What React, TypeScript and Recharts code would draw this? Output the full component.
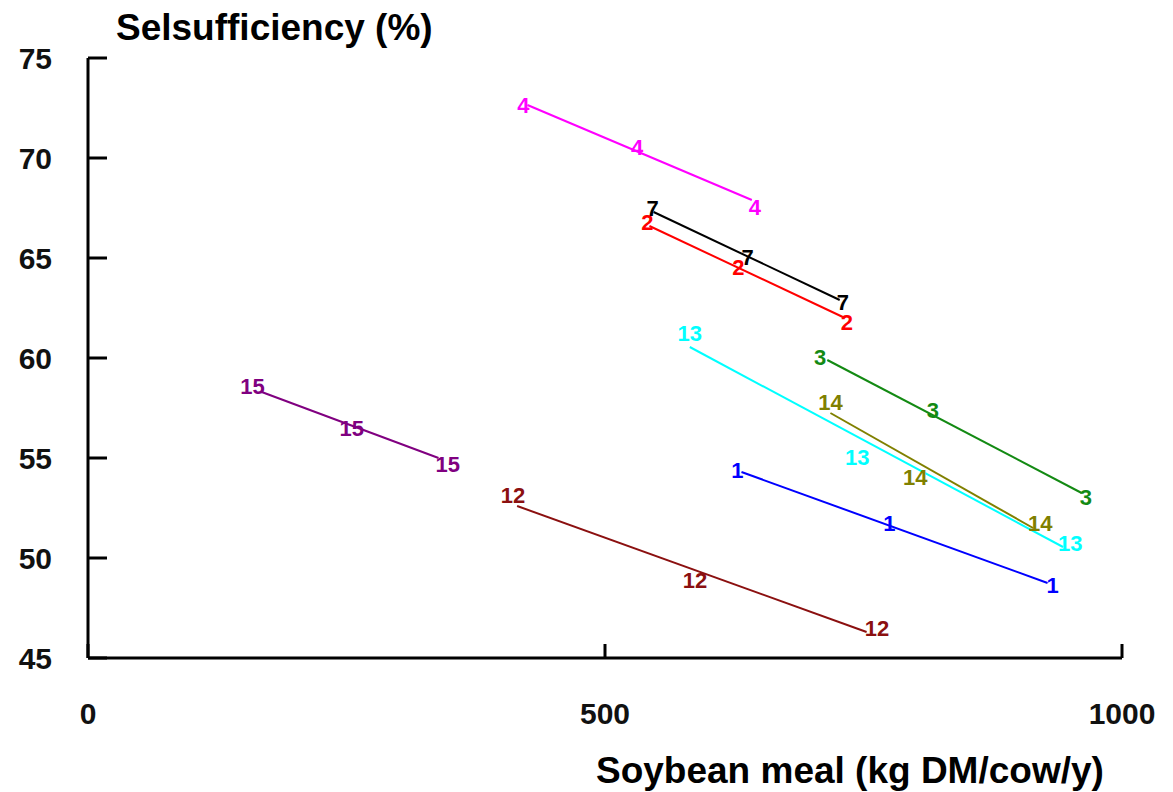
import { ScatterChart, Scatter, XAxis, YAxis } from 'recharts';

const xTicks = [0, 500, 1000];
const yTicks = [45, 50, 55, 60, 65, 70, 75];

// numbered symbols as printed on the plot, and the joining line ends
const points1 = [{ x: 628, y: 54.4 }, { x: 775, y: 51.75 }, { x: 933, y: 48.65 }];
const line1 = [{ x: 632, y: 54.3 }, { x: 928, y: 48.75 }];

const points2 = [{ x: 541, y: 66.8 }, { x: 629, y: 64.55 }, { x: 734, y: 61.8 }];
const line2 = [{ x: 543, y: 66.6 }, { x: 730, y: 62.05 }];

const points3 = [{ x: 708, y: 60.05 }, { x: 817, y: 57.4 }, { x: 965, y: 53.05 }];
const line3 = [{ x: 715, y: 59.9 }, { x: 961, y: 53.25 }];

const points4 = [{ x: 421, y: 72.65 }, { x: 531, y: 70.55 }, { x: 645, y: 67.55 }];
const line4 = [{ x: 425, y: 72.65 }, { x: 642, y: 67.9 }];

const points7 = [{ x: 546, y: 67.5 }, { x: 638, y: 65.05 }, { x: 730, y: 62.8 }];
const line7 = [{ x: 547, y: 67.3 }, { x: 727, y: 62.9 }];

const points12 = [{ x: 411, y: 53.15 }, { x: 587, y: 48.9 }, { x: 763, y: 46.5 }];
const line12 = [{ x: 415, y: 52.6 }, { x: 753, y: 46.3 }];

const points13 = [{ x: 582, y: 61.25 }, { x: 744, y: 55.05 }, { x: 950, y: 50.75 }];
const line13 = [{ x: 582, y: 60.55 }, { x: 943, y: 50.55 }];

const points14 = [{ x: 718, y: 57.8 }, { x: 800, y: 54.05 }, { x: 921, y: 51.75 }];
const line14 = [{ x: 718, y: 57.25 }, { x: 914, y: 51.5 }];

const points15 = [{ x: 159, y: 58.6 }, { x: 255, y: 56.5 }, { x: 348, y: 54.7 }];
const line15 = [{ x: 168, y: 58.3 }, { x: 339, y: 55.0 }];

const series = [
  { id: '1', points: points1, line: line1 },
  { id: '2', points: points2, line: line2 },
  { id: '3', points: points3, line: line3 },
  { id: '4', points: points4, line: line4 },
  { id: '7', points: points7, line: line7 },
  { id: '12', points: points12, line: line12 },
  { id: '13', points: points13, line: line13 },
  { id: '14', points: points14, line: line14 },
  { id: '15', points: points15, line: line15 },
];

const colors: Record<string, string> = {
  '1': '#0000ff',
  '2': '#ff0000',
  '3': '#138a13',
  '4': '#ff00ff',
  '7': '#000000',
  '12': '#8b1010',
  '13': '#00ffff',
  '14': '#808000',
  '15': '#800080',
};

const font = 'Liberation Sans, Arial, sans-serif';

const noShape = () => <g />;

const labelShape = (id: string, color: string) => (props: any) => (
  <text
    x={props.cx}
    y={props.cy}
    textAnchor="middle"
    dominantBaseline="central"
    fontSize={22}
    fontWeight="bold"
    fontFamily={font}
    fill={color}
  >
    {id}
  </text>
);

const titleStyle = {
  position: 'absolute' as const,
  fontFamily: font,
  fontWeight: 'bold',
  fontSize: 37,
  lineHeight: '37px',
  whiteSpace: 'nowrap' as const,
  color: '#000',
};

export default function App() {
  return (
    <div style={{ position: 'relative', width: 1165, height: 784 }}>
      <ScatterChart
        width={1165}
        height={784}
        margin={{ top: 50, right: 51, left: 20, bottom: 74 }}
      >
        <XAxis
          type="number"
          dataKey="x"
          domain={[0, 1000]}
          ticks={xTicks}
          height={60}
          tickSize={-14}
          tickMargin={59}
          axisLine={{ stroke: '#000', strokeWidth: 3 }}
          tickLine={{ stroke: '#000', strokeWidth: 3 }}
          tick={{ fontSize: 30, fontWeight: 'bold', fill: '#111', fontFamily: font }}
        />
        <YAxis
          type="number"
          dataKey="y"
          domain={[45, 75]}
          ticks={yTicks}
          width={60}
          tickSize={-19}
          tickMargin={55}
          axisLine={{ stroke: '#000', strokeWidth: 3 }}
          tickLine={{ stroke: '#000', strokeWidth: 3 }}
          tick={{ fontSize: 30, fontWeight: 'bold', fill: '#111', fontFamily: font }}
        />
        {series.map((s) => (
          <Scatter
            key={`line-${s.id}`}
            data={s.line}
            fill={colors[s.id]}
            line={{ stroke: colors[s.id], strokeWidth: 2 }}
            shape={noShape}
            isAnimationActive={false}
          />
        ))}
        {series.map((s) => (
          <Scatter
            key={`pts-${s.id}`}
            data={s.points}
            fill={colors[s.id]}
            shape={labelShape(s.id, colors[s.id])}
            isAnimationActive={false}
          />
        ))}
      </ScatterChart>
      <div style={{ ...titleStyle, left: 108, top: 1 }}>Selsufficiency (%)</div>
      <div style={{ ...titleStyle, left: 588, top: 744 }}>Soybean meal (kg DM/cow/y)</div>
    </div>
  );
}
